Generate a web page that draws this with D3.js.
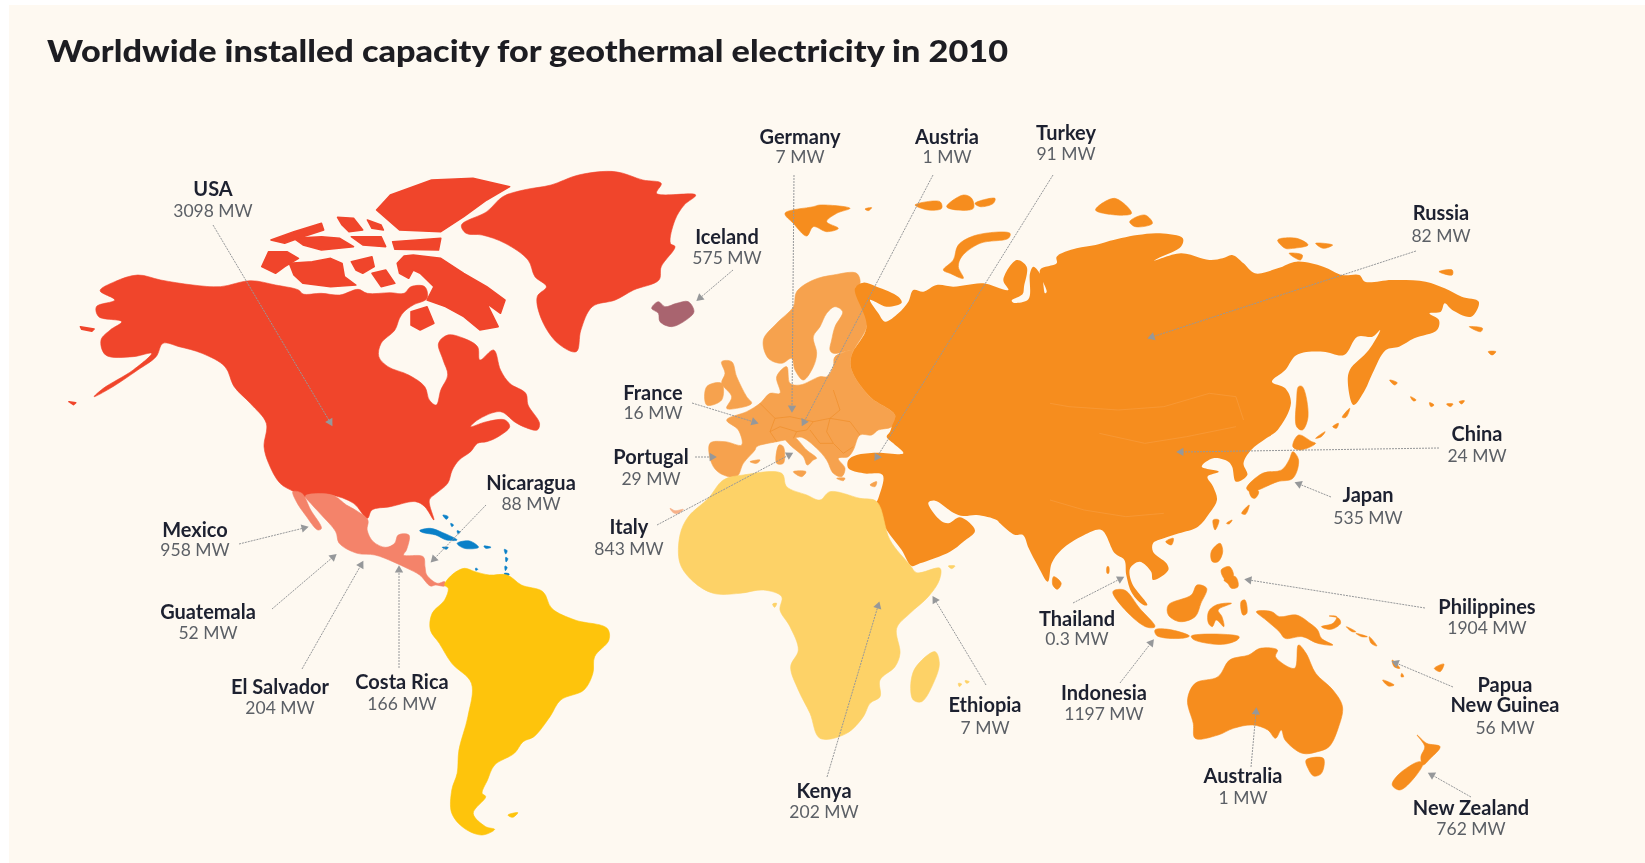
<!DOCTYPE html>
<html lang="en">
<head>
<meta charset="utf-8" />
<title>Geothermal capacity 2010</title>
<script src="https://cdnjs.cloudflare.com/ajax/libs/d3/7.8.5/d3.min.js"></script>
<style>
  html, body { margin: 0; background: #fff; }
  svg { display: block; filter: blur(0.45px); }
</style>
</head>
<body>
<svg id="map" width="1645" height="863"></svg>
<script>
// chart values
const countries = ["USA","Iceland","Germany","Austria","Turkey","Russia","China","Japan","Philippines","Papua\nNew Guinea","New Zealand","Australia","Indonesia","Thailand","Ethiopia","Kenya","Italy","Portugal","France","Nicaragua","Mexico","Guatemala","El Salvador","Costa Rica"];
const capacityMW = ["3098","575","7","1","91","82","24","535","1904","56","762","1","1197","0.3","7","202","843","29","16","88","958","52","204","166"];

// outlines, traced in the units of six source crops
const northAmerica = [[218,482],[250,455],[300,435],[350,450],[420,465],[480,470],[545,452],[600,465],[650,480],[660,492],[700,490],[740,495],[780,478],[800,490],[850,488],[880,490],[895,470],[925,470],[930,505],[900,525],[880,545],[870,565],[860,600],[830,640],[825,680],[845,710],[890,735],[925,770],[935,810],[950,825],[960,780],[975,735],[965,690],[955,640],[975,615],[1010,625],[1040,650],[1045,690],[1075,660],[1090,720],[1110,760],[1145,790],[1150,825],[1175,880],[1170,900],[1140,890],[1120,875],[1090,845],[1040,870],[1025,890],[1060,875],[1100,870],[1110,890],[1085,920],[1060,935],[1040,940],[1025,965],[1000,990],[985,1020],[975,1060],[950,1090],[935,1110],[945,1170],[925,1130],[905,1115],[850,1130],[810,1140],[800,1165],[770,1120],[720,1095],[660,1100],[640,1085],[610,1060],[585,1000],[575,950],[580,880],[545,820],[510,770],[490,710],[440,670],[390,650],[355,640],[340,680],[300,720],[240,775],[205,800],[225,775],[290,720],[330,670],[290,680],[230,675],[220,630],[240,600],[265,575],[215,560],[210,530],[250,510]];
const greenland = [[1005,285],[1060,245],[1095,200],[1140,180],[1200,165],[1260,135],[1340,125],[1400,150],[1440,160],[1430,190],[1515,195],[1490,225],[1470,270],[1460,340],[1470,350],[1440,410],[1435,450],[1380,480],[1340,510],[1290,530],[1265,600],[1255,665],[1215,640],[1180,570],[1170,500],[1190,470],[1165,440],[1150,390],[1100,340],[1050,315],[1015,310]];
const arcticCanada = [
  [[820,240],[850,195],[940,150],[1030,145],[1110,170],[1060,210],[1010,260],[960,305],[870,300]],
  [[590,330],[640,305],[700,280],[705,300],[660,320],[620,340]],
  [[735,262],[770,265],[790,300],[760,305],[745,285]],
  [[800,270],[830,285],[835,300],[810,295]],
  [[640,325],[700,320],[740,325],[770,350],[700,360],[660,345]],
  [[765,320],[830,320],[840,350],[790,345]],
  [[855,335],[960,325],[955,360],[860,358]],
  [[570,410],[585,365],[625,365],[650,385],[620,410],[600,430]],
  [[630,400],[680,395],[720,385],[745,400],[750,440],[775,465],[720,470],[660,460],[640,435]],
  [[765,395],[810,380],[815,410],[790,430],[775,420]],
  [[810,430],[840,420],[860,460],[830,470]],
  [[865,400],[880,378],[900,375],[960,385],[1010,430],[1060,470],[1100,510],[1090,550],[1060,520],[1085,590],[1045,600],[1010,560],[970,530],[930,510],[945,470],[915,430],[900,420],[890,445],[870,430]],
  [[895,545],[930,530],[945,580],[915,600],[895,585]],
  [[175,590],[205,597],[200,604],[178,598]],
  [[150,815],[165,818],[160,824]]
];
const mexicoMain = [[575,108],[650,105],[690,135],[715,150],[750,180],[748,210],[765,245],[800,262],[825,250],[835,225],[865,225],[858,270],[850,285],[905,290],[910,320],[915,345],[945,370],[965,365],[965,378],[940,375],[925,378],[895,345],[860,325],[820,305],[770,285],[720,280],[670,250],[660,215],[620,165],[590,130]];
const baja = [[540,95],[565,100],[590,150],[620,205],[610,210],[575,165],[550,125]];
const caribbean = [
  [[895,212],[925,205],[960,218],[1000,240],[970,240],[940,225],[905,218]],
  [[1000,250],[1035,243],[1060,262],[1020,265]],
  [[958,262],[975,262],[970,268]],
  [[1075,258],[1095,262],[1080,265]],
  [[960,165],[975,170],[970,178]],[[982,190],[990,195],[985,200]],[[1000,212],[1008,216],[1003,222]],
  [[1132,268],[1140,272],[1136,282]],[[1136,292],[1142,296],[1137,306]],[[1134,318],[1140,322],[1135,332]],[[1132,340],[1146,342],[1138,350]],[[1052,324],[1058,328],[1052,331]]
];
const southAmerica = [[965,375],[985,345],[1020,325],[1050,335],[1090,345],[1140,345],[1180,375],[1240,395],[1265,445],[1330,480],[1420,505],[1425,540],[1385,590],[1380,640],[1355,690],[1290,720],[1260,770],[1215,830],[1185,845],[1160,880],[1105,915],[1085,960],[1070,1000],[1080,1010],[1045,1060],[1080,1100],[1105,1108],[1070,1125],[1020,1105],[985,1060],[985,990],[1000,940],[1005,870],[1030,770],[1040,670],[985,610],[950,550],[925,510],[930,460],[965,420],[975,385]];
const falklands = [[1142,1065],[1170,1058],[1155,1072]];
const iceland = [[155,595],[175,575],[195,590],[230,580],[265,575],[282,605],[265,625],[215,650],[180,635],[175,610]];
const europeMain = [[590,545],[640,510],[700,495],[770,490],[780,520],[765,535],[795,600],[800,650],[755,735],[755,780],[810,860],[885,915],[875,950],[835,960],[815,975],[780,975],[760,1020],[745,1040],[715,1045],[735,1075],[725,1100],[700,1090],[680,1050],[650,1015],[605,982],[580,985],[555,990],[530,995],[470,1010],[465,1020],[430,1060],[410,1100],[360,1090],[335,1060],[330,1000],[375,995],[425,1005],[415,960],[380,930],[440,905],[480,880],[510,850],[540,850],[530,800],[560,770],[570,820],[600,825],[660,800],[680,800],[700,770],[705,740],[775,715],[700,730],[690,720],[695,690],[705,650],[728,605],[705,590],[680,610],[660,650],[640,680],[650,730],[640,770],[610,810],[585,780],[575,745],[545,760],[505,745],[490,690],[530,640],[580,590]];
const europeIslands = [
  [[555,985],[580,980],[620,1020],[650,1045],[640,1050],[622,1065],[610,1040],[570,1005]],
  [[537,1005],[550,1010],[550,1060],[530,1060]],
  [[580,1085],[618,1085],[605,1100]],
  [[710,1105],[735,1105],[730,1112]],
  [[365,755],[395,755],[410,800],[440,860],[455,880],[410,895],[380,895],[395,860],[365,820],[375,790]],
  [[320,830],[365,820],[365,870],[320,885]],
  [[450,1055],[480,1050],[470,1060]],
  [[810,1125],[830,1115],[825,1130]]
];
const europeBorders = [
  [[530,995],[510,965],[525,925],[480,880]],
  [[510,965],[540,950],[590,965],[620,960],[640,935],[690,925],[750,935],[780,975]],
  [[630,960],[660,1000],[700,1000],[730,1030],[760,1010]],
  [[690,925],[680,965],[700,1000]],
  [[590,965],[580,985]],
  [[700,840],[720,900],[690,925]],
  [[525,925],[570,920],[640,935]]
];
const asiaNorth = [[765,535],[790,518],[830,530],[895,560],[905,578],[860,590],[825,575],[810,570],[835,610],[855,635],[895,610],[925,575],[940,540],[970,545],[1010,525],[1060,530],[1100,525],[1150,520],[1225,540],[1210,510],[1250,450],[1280,470],[1272,530],[1268,552],[1235,572],[1240,578],[1285,568],[1290,490],[1300,470],[1325,500],[1335,550],[1340,545],[1320,480],[1370,460],[1370,440]];
const asiaEast = [[70,205],[120,195],[150,185],[230,165],[290,160],[350,175],[345,200],[290,232],[275,242],[345,220],[420,240],[455,235],[480,225],[510,250],[540,280],[600,265],[650,245],[720,260],[770,285],[815,285],[830,305],[900,300],[990,305],[1040,325],[1085,350],[1130,365],[1110,410],[1060,390],[1040,370],[1030,395],[1000,400],[1025,420],[1020,450],[960,475],[920,500],[885,510],[850,580],[830,630],[800,675],[785,610],[790,570],[840,510],[870,450],[850,470],[810,470],[775,525],[720,515],[650,525],[620,570],[585,605],[620,625],[635,670],[600,750],[570,775],[530,810],[510,850],[520,885],[490,905],[480,860],[470,845],[430,835],[400,860],[445,875],[415,890],[430,920],[440,960],[420,1000],[390,1040],[340,1060],[300,1075]];
const asiaSouth = [[400,70],[400,95],[435,130],[440,150],[400,180],[395,155],[365,125],[340,145],[345,190],[385,255],[375,255],[345,220],[330,165],[325,120],[300,100],[265,30],[220,45],[160,90],[135,130],[125,185],[100,140],[75,85],[60,45],[40,45],[25,35],[0,10]];
const asiaArabia = [[1190,240],[1130,225],[1090,228],[1060,218],[1005,182],[985,188],[1020,240],[1045,250],[1080,232],[1125,272],[1090,305],[1050,335],[960,370],[935,378],[905,330],[860,270],[825,200],[835,175],[848,105],[790,100],[745,85]];
const asiaWest = [[745,1050],[770,1035],[830,1028],[910,1030],[880,1000],[860,980],[870,965],[875,950],[885,915],[810,860],[755,780],[755,735],[800,650]];
const asiaBorders = [
  [[0,670],[50,680],[180,690],[300,680],[420,640],[490,650],[510,720]],
  [[130,760],[250,790],[360,770],[490,740]],
  [[0,960],[90,990],[200,1010],[300,1000]]
];
const arcticRussia = [
  [[1030,480],[1060,450],[1075,405],[1130,375],[1230,370],[1225,385],[1140,400],[1085,440],[1075,470],[1090,505],[1050,490]],
  [[555,310],[640,290],[660,285],[750,295],[710,310],[680,335],[715,355],[680,365],[640,350],[620,378],[580,340]],
  [[945,285],[1020,275],[1025,295],[985,300]],
  [[1040,290],[1090,255],[1115,265],[1120,295],[1070,300]],
  [[1125,280],[1185,265],[1180,280],[1140,290]],
  [[795,297],[815,293],[805,302]]
];
const farEastIslands = [
  [[120,90],[170,55],[215,100],[175,105]],
  [[210,125],[250,105],[270,130],[225,140]],
  [[600,180],[650,175],[680,195],[640,205],[620,205]],
  [[630,220],[665,225],[660,240]],
  [[700,190],[745,195],[720,205]],
  [[1025,275],[1060,270],[1060,285]],
  [[1105,440],[1140,445],[1135,455]],
  [[1155,515],[1175,515],[1165,525]],
  [[655,620],[665,620],[680,710],[665,750],[650,740],[650,660]],
  [[640,800],[655,765],[690,785],[700,790],[660,810]],
  [[640,815],[655,840],[640,895],[600,905],[530,935],[518,925],[560,880],[610,870],[630,840]],
  [[525,920],[550,935],[540,955],[530,950]],
  [[430,1020],[445,1020],[435,1050]],
  [[305,1085],[325,1075],[320,1095]],
  [[895,600],[915,608],[908,615]],[[950,650],[965,660],[958,663]],[[1000,668],[1012,675],[1004,680]],[[1045,672],[1062,672],[1055,680]],[[1078,665],[1092,662],[1085,672]],
  [[700,775],[725,755],[715,770]],[[745,740],[760,730],[755,745]],[[770,712],[790,685],[780,712]],
  [[465,1030],[480,1020],[472,1032]],[[505,1000],[525,975],[515,1003]]
];
const seAsiaIslands = [
  [[140,170],[160,190],[150,208],[138,195]],
  [[295,215],[325,210],[365,265],[405,320],[385,322],[340,285]],
  [[405,330],[440,328],[495,348],[475,355],[410,347]],
  [[500,348],[625,350],[620,360],[590,372],[555,372],[505,358]],
  [[440,255],[500,225],[515,195],[540,205],[525,250],[510,290],[470,305],[440,285]],
  [[545,275],[565,255],[605,250],[570,270],[580,290],[585,320],[565,300],[555,320],[545,310]],
  [[630,245],[640,240],[645,280],[635,285]],
  [[670,275],[710,275],[730,290],[775,285],[810,310],[830,330],[840,355],[870,375],[830,370],[790,350],[745,355],[730,335],[695,300]],
  [[552,95],[575,70],[582,95],[570,125],[555,125]],
  [[578,150],[600,140],[610,170],[590,180]],
  [[585,180],[615,170],[622,200],[605,205],[595,190]],
  [[840,320],[870,310],[880,290],[860,288],[885,295],[890,310],[865,328]],
  [[905,320],[930,335],[920,335]],[[930,340],[960,350],[945,350]],[[965,350],[985,378],[970,370]],
  [[1025,420],[1045,445],[1030,440]],[[1050,460],[1055,470],[1048,470]],
  [[1000,480],[1030,495],[1015,498]],[[1135,445],[1160,432],[1150,455]],
  [[280,140],[284,140],[284,160],[280,160]]
];
const australia = [[490,540],[510,490],[570,470],[600,420],[650,405],[680,385],[725,390],[720,410],[770,445],[780,375],[800,400],[825,460],[870,510],[895,560],[885,620],[860,680],[830,695],[790,700],[745,660],[735,630],[720,655],[700,630],[660,615],[610,625],[570,645],[510,655],[505,610]];
const tasmania = [[800,720],[845,715],[840,760],[820,768],[805,745]];
const newZealand = [
  [[1090,645],[1115,670],[1150,680],[1125,715],[1105,735],[1100,710],[1110,680]],
  [[1095,725],[1105,730],[1085,770],[1045,810],[1025,795],[1040,765]]
];
const africa = [[240,285],[265,230],[325,175],[370,120],[430,105],[545,100],[560,140],[620,165],[660,180],[690,155],[780,175],[830,185],[870,300],[930,375],[950,398],[1020,385],[1018,420],[985,470],[930,520],[890,565],[900,640],[885,680],[840,720],[840,770],[810,790],[790,830],[740,880],[660,895],[630,820],[595,750],[572,680],[595,630],[570,560],[540,510],[545,470],[490,450],[420,460],[340,460],[280,425],[240,370]];
const madagascar = [[1005,635],[1018,670],[1000,730],[965,785],[940,780],[932,745],[945,685]];
const africaIslands = [[[1045,378],[1065,378],[1055,386]],[[1075,730],[1085,732],[1078,740]],[[1095,722],[1108,725],[1100,730]],[[518,492],[530,490],[524,502]]];
const canaries = [[210,205],[225,212],[250,208],[235,220],[220,218]];

// page positions of the labels and leaders, same order as countries
const labelX = [213,727,800,947,1066,1441,1477,1368,1487,1505,1471,1243,1104,1077,985,824,629,651,653,531,195,208,280,402];
const nameY  = [189,237,137,137,133,213,434,495,607,685,808,776,693,619,705,791,527,457,393,483,530,612,687,682];
const valueY = [210,257,156,156,153,235,455,517,627,727,828,797,713,638,727,811,548,478,412,503,549,632,707,703];
const leaders = [
  [[213,225],[330,422]],[[733,270],[700,298]],[[794,175],[792,408]],[[933,175],[804,422]],
  [[1053,175],[877,457]],[[1416,251],[1152,337]],[[1439,448],[1181,452]],[[1331,497],[1299,484]],
  [[1425,608],[1249,580]],[[1453,687],[1396,663]],[[1471,797],[1432,775]],[[1251,767],[1256,712]],
  [[1120,683],[1151,643]],[[1073,603],[1120,579]],[[986,685],[935,600]],[[827,777],[878,606]],
  [[657,525],[789,455]],[[695,457],[712,457]],[[692,403],[754,422]],[[486,505],[434,559]],
  [[239,544],[304,528]],[[272,609],[333,557]],[[302,669],[361,565]],[[399,668],[399,570]]
];

const svg = d3.select("#map");
svg.append("rect").attr("x", 9).attr("y", 5).attr("width", 1636).attr("height", 858).attr("fill", "#fef9f1");

// crop -> page scales
function frame(x0, y0, w, h, unitsX, unitsY) {
  return {
    x: d3.scaleLinear().domain([0, unitsX]).range([x0, x0 + w]),
    y: d3.scaleLinear().domain([0, unitsY]).range([y0, y0 + h])
  };
}
const fa = frame(0, 130, 720, 400, 1568, 1200);
const fb = frame(100, 460, 560, 400, 1568, 1200);
const fc = frame(600, 110, 500, 400, 1500, 1200);
const fd = frame(1050, 180, 595, 380, 1568, 1140);
const fe = frame(1000, 520, 600, 340, 1568, 1020);
const ff = frame(600, 440, 450, 420, 1350, 1260);

const place = (f, pts) => pts.map((d) => [f.x(d[0]), f.y(d[1])]);
const line = d3.line();
const coast = d3.line().curve(d3.curveCatmullRomClosed.alpha(0.5));
const rough = d3.line().curve(d3.curveLinearClosed);

const land = svg.append("g").attr("class", "land");
function draw(f, pts, color, sw = 0.6, gen = coast) {
  land.append("path")
    .attr("d", gen(place(f, pts)))
    .attr("fill", color)
    .attr("stroke", color)
    .attr("stroke-width", sw)
    .attr("stroke-linejoin", "round");
}
function borders(f, list, color, w) {
  list.forEach((p) => {
    land.append("path").attr("d", line(place(f, p))).attr("fill", "none")
      .attr("stroke", color).attr("stroke-width", w);
  });
}

const red = "#f0452b", salmon = "#f4836a", blue = "#0a80c8", yellow = "#fec40c";
const sand = "#fdd267", lightOrange = "#f6a24e", orange = "#f68d1e";

draw(fa, northAmerica, red);
draw(fa, greenland, red);
arcticCanada.forEach((p) => draw(fa, p, red, 1.5, rough));
draw(fb, mexicoMain, salmon);
draw(fb, baja, salmon);
caribbean.forEach((p) => draw(fb, p, blue));
draw(fb, southAmerica, yellow);
draw(fb, falklands, yellow);
draw(fc, iceland, "#a9646f");

draw(fc, europeMain, lightOrange);
europeIslands.forEach((p) => draw(fc, p, lightOrange));
borders(fc, europeBorders, "#f0912f", 0.8);

// Eurasia is stitched from four crops
const eurasia = [].concat(
  place(fc, asiaNorth), place(fd, asiaEast), place(fe, asiaSouth),
  place(ff, asiaArabia), place(fc, asiaWest)
);
land.append("path").attr("d", coast(eurasia)).attr("fill", orange);
borders(fd, asiaBorders, "#f89c3e", 0.7);
arcticRussia.forEach((p) => draw(fc, p, orange));
farEastIslands.forEach((p) => draw(fd, p, orange));
seAsiaIslands.forEach((p) => draw(fe, p, orange));
draw(fe, australia, orange);
draw(fe, tasmania, orange);
newZealand.forEach((p) => draw(fe, p, orange));

draw(ff, africa, sand);
draw(ff, madagascar, sand);
africaIslands.forEach((p) => draw(ff, p, sand));
draw(ff, canaries, "#f7b189");

// leaders with small arrow heads
const grey = "#96989a";
const leaderG = svg.append("g");
leaders.forEach((l) => {
  leaderG.append("path").attr("d", line(l)).attr("fill", "none")
    .attr("stroke", grey).attr("stroke-width", 1).attr("stroke-dasharray", "2 1");
  const a = Math.atan2(l[1][1] - l[0][1], l[1][0] - l[0][0]) * 180 / Math.PI + 90;
  leaderG.append("path").attr("d", d3.symbol(d3.symbolTriangle, 30)())
    .attr("fill", grey)
    .attr("transform", `translate(${l[1][0]},${l[1][1]}) rotate(${a})`);
});

// labels
const font = "Lato, 'Open Sans', sans-serif";
const labels = svg.append("g").attr("font-family", font).attr("text-anchor", "middle");
countries.forEach((name, i) => {
  const t = labels.append("text").attr("y", nameY[i] + 7)
    .attr("font-size", 20).attr("font-weight", 700).attr("fill", "#1d2130");
  name.split("\n").forEach((part, j) => {
    t.append("tspan").attr("x", labelX[i]).attr("dy", j ? 20 : 0).text(part);
  });
  labels.append("text").attr("x", labelX[i]).attr("y", valueY[i] + 7)
    .attr("font-size", 17.5).attr("fill", "#5c6066").text(capacityMW[i] + " MW");
});

svg.append("text").attr("x", 47).attr("y", 62)
  .attr("font-family", font).attr("font-size", 31).attr("font-weight", 900).attr("fill", "#1d1d22")
  .attr("textLength", 961).attr("lengthAdjust", "spacingAndGlyphs")
  .text("Worldwide installed capacity for geothermal electricity in 2010");
</script>
</body>
</html>
